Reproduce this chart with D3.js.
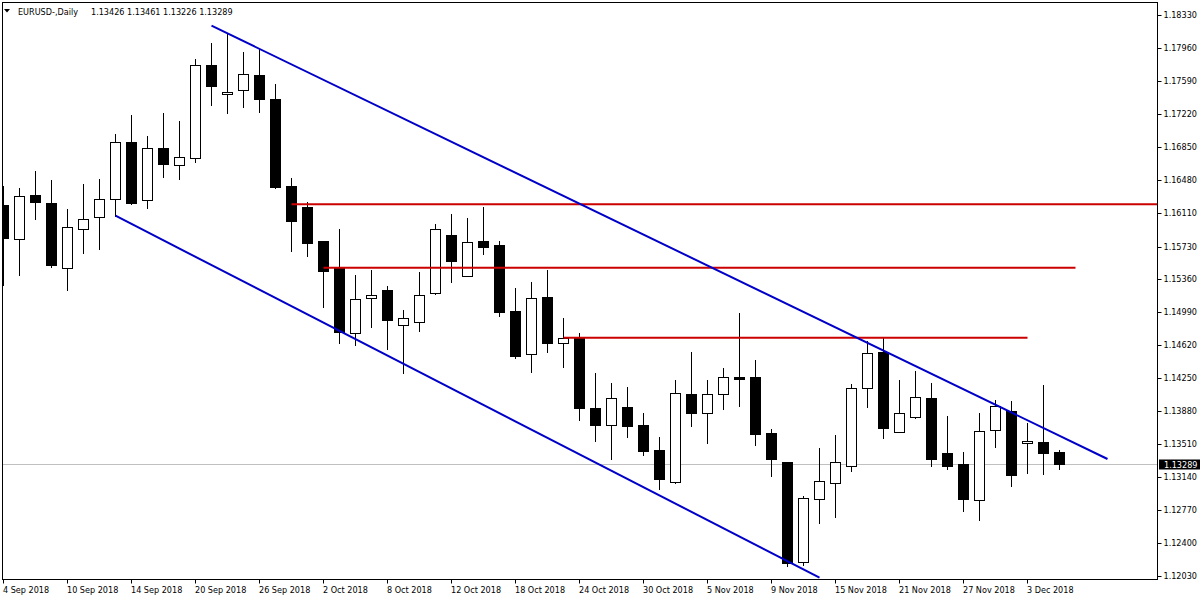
<!DOCTYPE html>
<html><head><meta charset="utf-8">
<script src="https://cdn.jsdelivr.net/npm/d3@7"></script>
<style>
html,body{margin:0;padding:0;background:#fff;}
svg{display:block;}
text{font-family:"DejaVu Sans Condensed","DejaVu Sans",sans-serif;font-stretch:condensed;font-size:9px;fill:#000;}
</style></head><body>
<svg id="chart" width="1200" height="600"></svg>
<script>
const dates = ["2018-09-04","2018-09-05","2018-09-06","2018-09-07","2018-09-10","2018-09-11","2018-09-12","2018-09-13","2018-09-14","2018-09-17",
"2018-09-18","2018-09-19","2018-09-20","2018-09-21","2018-09-24","2018-09-25","2018-09-26","2018-09-27","2018-09-28","2018-10-01",
"2018-10-02","2018-10-03","2018-10-04","2018-10-05","2018-10-08","2018-10-09","2018-10-10","2018-10-11","2018-10-12","2018-10-15",
"2018-10-16","2018-10-17","2018-10-18","2018-10-19","2018-10-22","2018-10-23","2018-10-24","2018-10-25","2018-10-26","2018-10-29",
"2018-10-30","2018-10-31","2018-11-01","2018-11-02","2018-11-05","2018-11-06","2018-11-07","2018-11-08","2018-11-09","2018-11-12",
"2018-11-13","2018-11-14","2018-11-15","2018-11-16","2018-11-19","2018-11-20","2018-11-21","2018-11-22","2018-11-23","2018-11-26",
"2018-11-27","2018-11-28","2018-11-29","2018-11-30","2018-12-03","2018-12-04","2018-12-05"];

const open = [1.16196,1.15811,1.16309,1.16222,1.15486,1.15930,1.16058,1.16260,1.16900,1.16249,
1.16836,1.16642,1.16721,1.17765,1.17440,1.17484,1.17653,1.17383,1.16410,1.16174,
1.15792,1.15486,1.14756,1.15149,1.15242,1.14845,1.14886,1.15211,1.15859,1.15402,
1.15792,1.15747,1.15006,1.14520,1.15167,1.14643,1.14699,1.13917,1.13729,1.13928,
1.13726,1.13445,1.13089,1.14074,1.13864,1.14071,1.14261,1.14265,1.13633,1.13307,
1.12184,1.12898,1.13071,1.13262,1.14138,1.14546,1.13644,1.13819,1.14026,1.13408,
1.13288,1.12887,1.13673,1.13883,1.13520,1.13535,1.13426];

const high = [1.16421,1.16395,1.16589,1.16488,1.16159,1.16440,1.16496,1.17002,1.17215,1.16982,
1.17237,1.17151,1.17844,1.18024,1.18125,1.17926,1.17956,1.17563,1.16507,1.16241,
1.15803,1.15935,1.15422,1.15478,1.15298,1.15028,1.15455,1.15991,1.16110,1.16065,
1.16185,1.15803,1.15279,1.15343,1.15478,1.14942,1.14774,1.14324,1.14212,1.14164,
1.13872,1.13606,1.14242,1.14557,1.14242,1.14374,1.14991,1.14467,1.13689,1.13307,
1.12940,1.13482,1.13625,1.14201,1.14680,1.14725,1.14242,1.14343,1.14209,1.13838,
1.13434,1.13872,1.14018,1.14007,1.13763,1.14186,1.13461];

const low = [1.15298,1.15410,1.16039,1.15497,1.15242,1.15654,1.15699,1.16076,1.16204,1.16166,
1.16514,1.16492,1.16683,1.17323,1.17233,1.17300,1.17244,1.16384,1.15683,1.15624,
1.15048,1.14643,1.14624,1.14830,1.14579,1.14313,1.14781,1.15197,1.15335,1.15402,
1.15646,1.14953,1.14482,1.14324,1.14549,1.14374,1.13782,1.13546,1.13344,1.13594,
1.13392,1.13007,1.13071,1.13718,1.13527,1.13905,1.13939,1.13505,1.13156,1.12146,
1.12154,1.12622,1.12696,1.13212,1.13931,1.13583,1.13644,1.13808,1.13269,1.13232,
1.12763,1.12659,1.13482,1.13044,1.13190,1.13179,1.13226];

const close = [1.15822,1.16297,1.16233,1.15523,1.15946,1.16036,1.16260,1.16900,1.16222,1.16833,
1.16660,1.16735,1.17765,1.17536,1.17465,1.17664,1.17390,1.16402,1.16020,1.15773,
1.15459,1.14774,1.15137,1.15182,1.14905,1.14924,1.15186,1.15923,1.15571,1.15781,
1.15728,1.14998,1.14501,1.15149,1.14643,1.14699,1.13920,1.13729,1.14026,1.13718,
1.13437,1.13119,1.14082,1.13864,1.14074,1.14261,1.14246,1.13625,1.13341,1.12173,
1.12903,1.13094,1.13307,1.14138,1.14531,1.13695,1.13857,1.14037,1.13347,1.13269,
1.12895,1.13655,1.13939,1.13168,1.13543,1.13415,1.13289];

const priceTicks = [1.18330,1.17960,1.17590,1.17220,1.16850,1.16480,1.16110,1.15730,1.15360,
1.14990,1.14620,1.14250,1.13880,1.13510,1.13140,1.12770,1.12400,1.12030];

const dateTickIdx = [0,4,8,12,16,20,24,28,32,36,40,44,48,52,56,60,64];

const symbolTitle = "EURUSD-,Daily";
const lastQuote = [1.13426,1.13461,1.13226,1.13289];
const currentPrice = 1.13289;

// channel trendlines: [start bar index, start price, end bar index, end price]
const channelLines = [[13,1.18210,69,1.13344],[7,1.16076,51,1.12011]];
// horizontal levels: [start bar index, end bar index, price]
const levelLines = [[18,73,1.16204],[20,67,1.15492],[35,64,1.14706]];

const svg = d3.select("#chart");
const L = 2.5, T = 2.5, R = 1157.5, B = 579.5;

const x = d3.scaleLinear().domain([0, 72.106]).range([3.5, 1157.2]);
const y = d3.scaleLinear().domain([1.12030, 1.18330]).range([576, 15]);
const py = p => Math.round(y(p)) + 0.5;

svg.append("rect").attr("width",1200).attr("height",600).attr("fill","#fff");

svg.append("defs").append("clipPath").attr("id","plotclip")
  .append("rect").attr("x",L).attr("y",T).attr("width",R-L).attr("height",B-T);

const plot = svg.append("g").attr("clip-path","url(#plotclip)");

// current price line
plot.append("line").attr("x1",L).attr("x2",R).attr("y1",py(currentPrice)).attr("y2",py(currentPrice))
  .attr("stroke","#c0c0c0").attr("stroke-width",1);

const bars = d3.range(dates.length).map(i => ({i, o:open[i], h:high[i], l:low[i], c:close[i]}));

const cg = plot.append("g");
cg.selectAll("line.wick").data(bars).join("line").attr("class","wick")
  .attr("x1",d=>x(d.i)).attr("x2",d=>x(d.i))
  .attr("y1",d=>py(d.h)).attr("y2",d=>py(d.l))
  .attr("stroke","#000").attr("stroke-width",1).attr("shape-rendering","crispEdges");
cg.selectAll("rect.body").data(bars).join("rect").attr("class","body")
  .attr("x",d=>x(d.i)-5).attr("width",10)
  .attr("y",d=>py(Math.max(d.o,d.c)))
  .attr("height",d=>Math.max(1, py(Math.min(d.o,d.c)) - py(Math.max(d.o,d.c))))
  .attr("fill",d=>d.c>=d.o ? "#fff" : "#000")
  .attr("stroke","#000").attr("stroke-width",1).attr("shape-rendering","crispEdges");

// horizontal red levels
plot.selectAll("line.level").data(levelLines).join("line").attr("class","level")
  .attr("x1",d=>x(d[0])).attr("x2",d=>x(d[1]))
  .attr("y1",d=>y(d[2])).attr("y2",d=>y(d[2]))
  .attr("stroke","#cc0000").attr("stroke-width",2);

// blue channel
plot.selectAll("line.chan").data(channelLines).join("line").attr("class","chan")
  .attr("x1",d=>x(d[0])).attr("y1",d=>y(d[1]))
  .attr("x2",d=>x(d[2])).attr("y2",d=>y(d[3]))
  .attr("stroke","#0000c8").attr("stroke-width",2);

// frame
svg.append("rect").attr("x",L).attr("y",T).attr("width",R-L).attr("height",B-T)
  .attr("fill","none").attr("stroke","#000").attr("stroke-width",1);

// price axis
const yAxis = d3.axisRight(y).tickValues(priceTicks).tickFormat(d3.format(".5f")).tickSize(4).tickPadding(2);
const ya = svg.append("g").attr("transform",`translate(${R},0)`).call(yAxis);
ya.select(".domain").remove();
ya.selectAll(".tick line").attr("stroke","#000");
ya.selectAll(".tick").attr("transform", d => `translate(0,${py(d)})`);
ya.selectAll("text").attr("font-size",null).attr("font-family",null).attr("fill","#000");

// current price label
const cp = svg.append("g").attr("transform",`translate(0,${py(currentPrice)})`);
cp.append("rect").attr("x",1159).attr("y",-5).attr("width",41).attr("height",10).attr("fill","#000");
cp.append("text").attr("x",1164).attr("y",0).attr("dy","0.34em").style("fill","#fff").text(d3.format(".5f")(currentPrice));

// time axis
const fmt = d3.timeFormat("%-d %b %Y");
const parse = d3.timeParse("%Y-%m-%d");
const xAxis = d3.axisBottom(x).tickValues(dateTickIdx).tickFormat(i => fmt(parse(dates[i]))).tickSize(4).tickPadding(3);
const xa = svg.append("g").attr("transform",`translate(0,${B})`).call(xAxis);
xa.select(".domain").remove();
xa.selectAll(".tick line").attr("stroke","#000");
xa.selectAll(".tick").attr("transform", d => `translate(${x(d)},0)`);
xa.selectAll("text").attr("text-anchor","start").attr("x",-0.5).attr("font-size",null).attr("font-family",null).attr("fill","#000");

// header
svg.append("path").attr("d","M4,9 L10,9 L7,12.5 Z").attr("fill","#000");
svg.append("text").attr("x",18).attr("y",14.5).text(symbolTitle);
svg.append("text").attr("x",91).attr("y",14.5).text(lastQuote.map(d3.format(".5f")).join(" "));
</script>
</body></html>
